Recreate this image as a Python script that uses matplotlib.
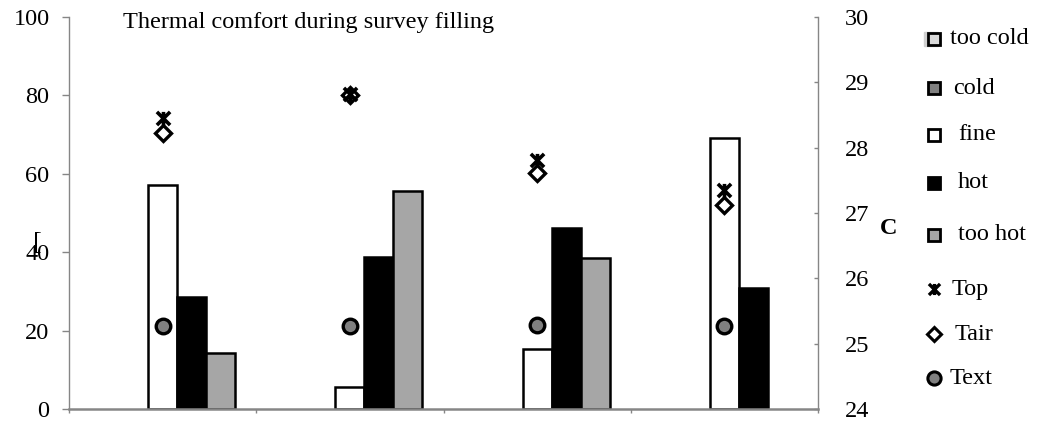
import numpy as np
import matplotlib
matplotlib.use("Agg")
import matplotlib.pyplot as plt
from matplotlib.path import Path

plt.rcParams['font.family'] = ['Liberation Serif', 'DejaVu Serif']

# ---------------- data ----------------
groups = [0, 1, 2, 3]
too_cold = [0, 0, 0, 0]
cold = [0, 0, 0, 0]
fine = [57.1, 5.6, 15.4, 69.2]
hot = [28.6, 38.9, 46.2, 30.8]
too_hot = [14.3, 55.6, 38.5, 0]
t_op = [28.45, 28.82, 27.81, 27.35]
t_air = [28.22, 28.80, 27.61, 27.12]
t_ext = [25.27, 25.27, 25.29, 25.27]
left_ticks = [0, 20, 40, 60, 80, 100]
right_ticks = [24, 25, 26, 27, 28, 29, 30]
title = "Thermal comfort during survey filling"

series = [
    ("too cold", too_cold, "#d9d9d9"),
    ("cold", cold, "#808080"),
    ("fine", fine, "#ffffff"),
    ("hot", hot, "#000000"),
    ("too hot", too_hot, "#a6a6a6"),
]

W, H = 1037, 429
fig = plt.figure(figsize=(W / 100, H / 100), dpi=100)
L, R, T, B = 69, 818, 17, 409
ax = fig.add_axes([L / W, 1 - B / H, (R - L) / W, (B - T) / H])

GRAY = "#868686"
FS = 17.5

# bars
bw = 0.155
centers = np.array(groups) + 0.5
for k, (name, vals, col) in enumerate(series):
    vals = np.array(vals, dtype=float)
    lws = [1.8 if v > 0 else 0 for v in vals]
    ax.bar(centers + (k - 2) * bw, vals, width=bw, color=col,
           edgecolor="black", linewidth=lws, zorder=2)

ax.set_xlim(0, 4)
ax.set_ylim(0, 100)
ax.set_yticks(left_ticks)
ax.set_xticks([0, 1, 2, 3, 4])
ax.set_xticklabels([])
ax.tick_params(axis='x', direction='out', length=3, color=GRAY, width=1)
ax.tick_params(axis='y', direction='out', length=5, color=GRAY, width=1,
               labelsize=FS, pad=9)
for s in ["top", "right"]:
    ax.spines[s].set_visible(False)
ax.spines["left"].set_color(GRAY)
ax.spines["left"].set_linewidth(1)
ax.spines["bottom"].set_color(GRAY)
ax.spines["bottom"].set_linewidth(1.8)
ax.spines["bottom"].set_zorder(3)

# right axis
ax2 = ax.twinx()
ax2.set_ylim(24, 30)
ax2.set_yticks(right_ticks)
ax2.tick_params(axis='y', direction='in', length=3, color=GRAY, width=1,
                labelsize=FS, pad=19)
for s in ["top", "left", "bottom"]:
    ax2.spines[s].set_visible(False)
ax2.spines["right"].set_color(GRAY)
ax2.spines["right"].set_linewidth(1)

star = Path([(0, -1), (0, 1), (-1, -1), (1, 1), (-1, 1), (1, -1)],
            [Path.MOVETO, Path.LINETO, Path.MOVETO, Path.LINETO,
             Path.MOVETO, Path.LINETO])

ax2.plot(centers, t_ext, linestyle='none', marker='o', ms=10.5,
         mfc="#808080", mec="black", mew=2.4, zorder=4)
ax2.plot(centers, t_air, linestyle='none', marker='D', ms=8,
         mfc="white", mec="black", mew=2.4, zorder=4)
ax2.plot(centers, t_op, linestyle='none', marker=star, ms=9.5,
         mfc="black", mec="black", mew=2.6, zorder=5)

# overlay for annotations in pixel coordinates
ov = fig.add_axes([0, 0, 1, 1], facecolor='none')
ov.set_xlim(0, W)
ov.set_ylim(H, 0)
ov.axis('off')

ov.text(123, 28, title, fontsize=FS, ha='left', va='baseline')
ov.text(889, 228, "C", fontsize=FS, fontweight='bold', ha='center', va='center')
ov.text(37, 243, "[", fontsize=19, ha='center', va='center')

# legend
leg_y = [39, 88, 135, 183, 235, 289, 334, 378]
leg_tx = [950, 953, 958, 958, 958, 952, 955, 950]
mx = 934
for i, (name, vals, col) in enumerate(series):
    y = leg_y[i]
    if i == 0:
        ov.plot([mx - 3], [y], marker='s', ms=9.5, mfc="#d0d0d0", mec="#d0d0d0",
                linestyle='none')
    ov.plot([mx], [y], marker='s', ms=8, mfc=col, mec="black", mew=2.0,
            linestyle='none')
    ov.text(leg_tx[i], y, name, fontsize=FS, ha='left', va='center')

ov.plot([mx], [leg_y[5]], marker=star, ms=8, mfc="black", mec="black",
        mew=2.4, linestyle='none')
ov.text(leg_tx[5], leg_y[5], "Top", fontsize=FS, ha='left', va='center')
ov.plot([mx], [leg_y[6]], marker='D', ms=7.5, mfc="white", mec="black",
        mew=2.2, linestyle='none')
ov.text(leg_tx[6], leg_y[6], "Tair", fontsize=FS, ha='left', va='center')
ov.plot([mx], [leg_y[7]], marker='o', ms=9.5, mfc="#808080", mec="black",
        mew=2.2, linestyle='none')
ov.text(leg_tx[7], leg_y[7], "Text", fontsize=FS, ha='left', va='center')

fig.savefig("out.png", dpi=100)
